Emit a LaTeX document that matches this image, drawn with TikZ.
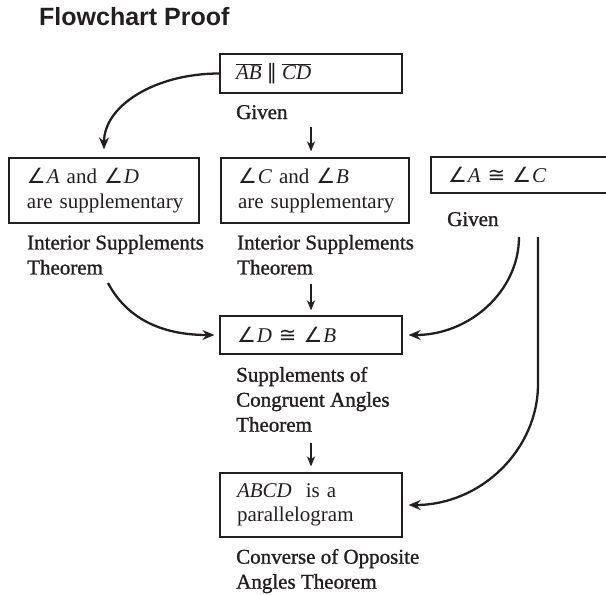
\documentclass[tikz,border=0pt]{standalone}
\usepackage{fontspec}
\setmainfont{Liberation Serif}
\newfontfamily\lblfont{Liberation Serif}[BoldFont=Liberation Serif, BoldFeatures={FakeBold=1.2}]
\newfontfamily\titlefont{Liberation Sans}
\newfontfamily\symfont{DejaVu Sans}
\usetikzlibrary{arrows.meta}
\definecolor{ink}{HTML}{231F20}
\newcommand{\ang}[1]{{\symfont ∠}\kern1pt\textit{#1}}
\newcommand{\cgr}{\ {\symfont ≅}\ }
\newcommand{\seg}[1]{$\overline{\mbox{\textit{#1}}}$}
\tikzset{
  box/.style={draw=ink, line width=1.2pt, rectangle, align=left, inner ysep=0pt,
    font=\fontsize{21}{24.5}\selectfont, text=ink},
  lbl/.style={anchor=north west, align=left, inner sep=0pt,
    font=\lblfont\bfseries\fontsize{21}{25}\selectfont, text=ink},
  conn/.style={draw=ink, line width=2.3pt, -{Stealth[length=12pt,width=10pt,inset=4pt]}},
  dn/.style={draw=ink, line width=1.6pt, -{Stealth[length=10pt,width=8pt,inset=3pt]}}
}
\begin{document}
\begin{tikzpicture}[x=1pt,y=-1pt]
\useasboundingbox (0,0) rectangle (606,595);
\clip (0,0) rectangle (606,595);
\node[anchor=base west, inner sep=0pt, text=ink,
  font=\titlefont\bfseries\fontsize{25}{30}\selectfont] (title) at (39,25) {Flowchart Proof};
% boxes
\node[box, inner xsep=16pt, text width=150pt, minimum height=39pt] (b1) at (311,73.5)
  {\seg{AB}\hspace{5pt}{\symfont ∥}\hspace{5pt}\seg{CD}};
\node[box, inner xsep=18pt, text width=154pt, minimum height=65pt] (bA) at (104,190.5)
  {\mbox{\ang{A} and \ang{D}}\\\mbox{are supplementary}};
\node[box, inner xsep=17pt, text width=154pt, minimum height=65pt] (bB) at (315,190.5)
  {\mbox{\ang{C} and \ang{B}}\\\mbox{are supplementary}};
\node[box, inner xsep=17pt, text width=185pt, minimum height=36pt] (bC) at (540.5,175)
  {\ang{A}\cgr\ang{C}};
\node[box, inner xsep=17pt, text width=148pt, minimum height=38pt] (bD) at (311,335)
  {\ang{D}\cgr\ang{B}};
\node[box, inner xsep=17pt, text width=148pt, minimum height=64pt] (bE) at (311,505)
  {\textit{ABCD}\ \ is a\\parallelogram};
% labels
\node[lbl, anchor=base west] (g1) at (236,119) {Given};
\node[lbl] (lA) at (27,234.7) {Interior Supplements\\Theorem};
\node[lbl] (lB) at (237,234.7) {Interior Supplements\\Theorem};
\node[lbl, anchor=base west] (g2) at (447,226) {Given};
\node[lbl] (lD) at (236,366.7) {Supplements of\\Congruent Angles\\Theorem};
\node[lbl] (lE) at (236,548.7) {Converse of Opposite\\Angles Theorem};
% free ends
\coordinate (a1s) at (311,127);
\coordinate (a2s) at (311,284);
\coordinate (a3s) at (311,443);
\coordinate (c2s) at (108,283);
\coordinate (c3s) at (519,237);
\coordinate (c4s) at (538,237);
\coordinate (c4m) at (538,384);
% straight arrows
\draw[dn, shorten >=6pt] (a1s) -- (a1s |- bB.north);
\draw[dn, shorten >=5pt] (a2s) -- (a2s |- bD.north);
\draw[dn, shorten >=6pt] (a3s) -- (a3s |- bE.north);
% curved connectors
\draw[conn] (b1.west) .. controls +(-64,0) and +(0,-44) .. ([yshift=8pt]bA.north);
\draw[conn] (c2s) .. controls +(18,34) and +(-55,0) .. ([xshift=-5pt]bD.west);
\draw[conn] (c3s) .. controls +(0,54) and +(61,0) .. ([xshift=6pt]bD.east);
\draw[conn] (c4s) -- (c4m) .. controls +(0,66) and +(72,0) .. ([xshift=6pt]bE.east);
\end{tikzpicture}
\end{document}
